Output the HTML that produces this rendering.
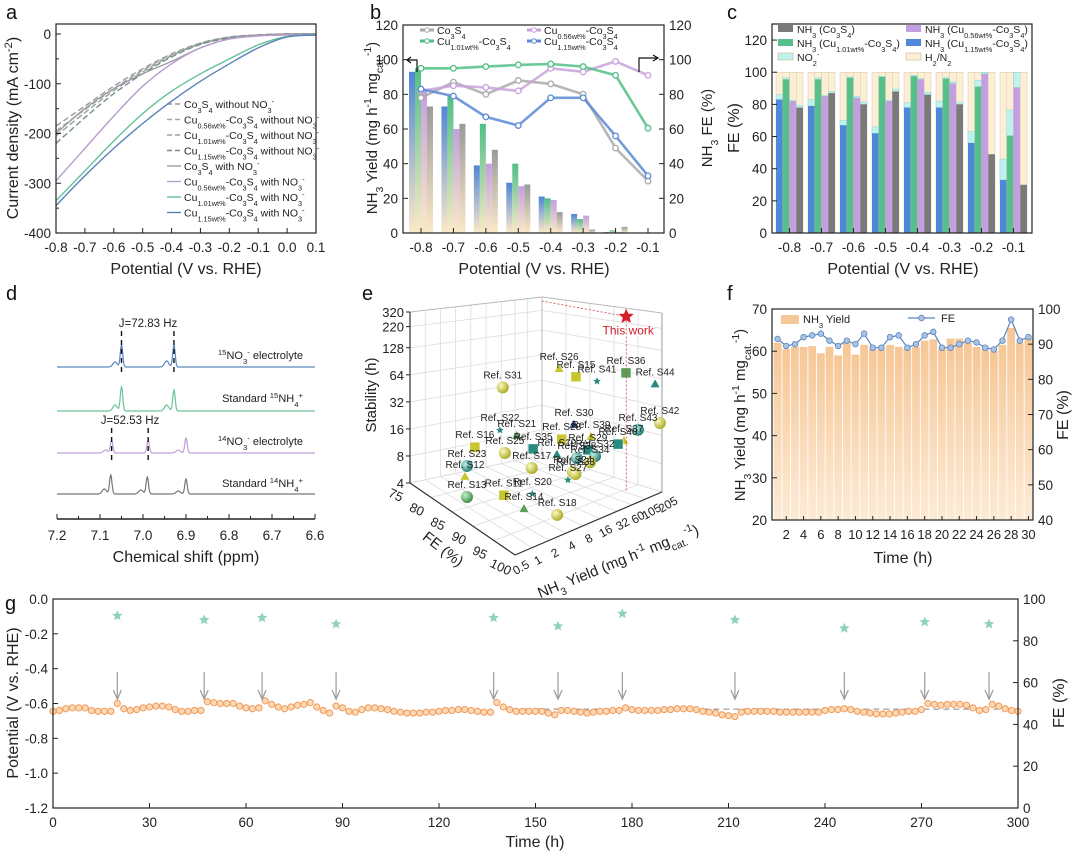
<!DOCTYPE html>
<html><head><meta charset="utf-8"><title>Catalyst figure recreation</title>
<style>
html,body{margin:0;padding:0;background:#fff;}
svg{display:block;font-family:"Liberation Sans",Arial,sans-serif;}
</style></head>
<body>
<svg id="fig" width="1080" height="852" viewBox="0 0 1080 852" xmlns="http://www.w3.org/2000/svg">
<defs>
<linearGradient id="gBlue" x1="0" y1="0" x2="0" y2="1"><stop offset="0" stop-color="#4f86d6"/><stop offset="1" stop-color="#fbe9c8"/></linearGradient>
<linearGradient id="gGreen" x1="0" y1="0" x2="0" y2="1"><stop offset="0" stop-color="#4fbf86"/><stop offset="1" stop-color="#fbe9c8"/></linearGradient>
<linearGradient id="gPurple" x1="0" y1="0" x2="0" y2="1"><stop offset="0" stop-color="#c49ee0"/><stop offset="1" stop-color="#fbe9c8"/></linearGradient>
<linearGradient id="gGray" x1="0" y1="0" x2="0" y2="1"><stop offset="0" stop-color="#9a9a9a"/><stop offset="1" stop-color="#fbe9c8"/></linearGradient>
<linearGradient id="gOrange" x1="0" y1="0" x2="0" y2="1"><stop offset="0" stop-color="#f6c796"/><stop offset="1" stop-color="#fdebd6"/></linearGradient>
<radialGradient id="sphY" cx="0.35" cy="0.35" r="0.7"><stop offset="0" stop-color="#fbfbc0"/><stop offset="1" stop-color="#a9a820"/></radialGradient>
<radialGradient id="sphG" cx="0.35" cy="0.35" r="0.7"><stop offset="0" stop-color="#c8f0c8"/><stop offset="1" stop-color="#3a8a40"/></radialGradient>
<radialGradient id="sphT" cx="0.35" cy="0.35" r="0.7"><stop offset="0" stop-color="#bff0e8"/><stop offset="1" stop-color="#1f7a70"/></radialGradient>
<radialGradient id="sphN" cx="0.35" cy="0.35" r="0.7"><stop offset="0" stop-color="#9ab0e0"/><stop offset="1" stop-color="#203a70"/></radialGradient>
</defs>
<rect x="0" y="0" width="1080" height="852" fill="#fff"/>
<g font-size="20" fill="#111">
<text x="6" y="19">a</text>
<text x="370" y="19">b</text>
<text x="727" y="19">c</text>
<text x="6" y="300">d</text>
<text x="362" y="300">e</text>
<text x="727" y="300">f</text>
<text x="5" y="610">g</text>
</g>
</svg>
<script>
const NS="http://www.w3.org/2000/svg";
const fig=document.getElementById('fig');

/* ---------------- DATA: panel a (LSV) ---------------- */
const aPot=[-0.8,-0.7,-0.6,-0.5,-0.4,-0.3,-0.2,-0.1,0.0,0.1];
const aCo3S4Without=[-185,-145,-105,-70,-40,-18,-6,-2,0,0];
const aCu056Without=[-195,-152,-110,-73,-42,-19,-7,-2,0,0];
const aCu101Without=[-205,-158,-114,-76,-44,-20,-7,-2,0,0];
const aCu115Without=[-220,-168,-120,-80,-46,-21,-8,-2,0,0];
const aCo3S4With=[-200,-150,-110,-80,-55,-28,-10,-3,-1,-1];
const aCu056With=[-295,-230,-165,-105,-60,-28,-10,-4,-2,-2];
const aCu101With=[-335,-275,-215,-160,-115,-80,-50,-22,-5,-2];
const aCu115With=[-345,-285,-230,-180,-135,-95,-60,-28,-6,-2];
const aYTicks=[0,-100,-200,-300,-400];
const aXTicks=[-0.8,-0.7,-0.6,-0.5,-0.4,-0.3,-0.2,-0.1,0.0,0.1];

/* ---------------- DATA: panel b ---------------- */
const bPot=[-0.8,-0.7,-0.6,-0.5,-0.4,-0.3,-0.2,-0.1];
const bYieldCu115=[93,73,39,29,21,11,0.5,0];
const bYieldCu101=[95,79,63,40,20,8,1.5,0];
const bYieldCu056=[83,60,40,27,19,10,0.5,0];
const bYieldCo3S4=[73,63,48,28,12,2,3.5,0.3];
const bFECo3S4=[78,87,80,88,86,80,49,30];
const bFECu056=[82,85,84,82,95,93,99,91];
const bFECu101=[95,95,96,97,97.5,96,91,60.5];
const bFECu115=[83,79,67,62,78,78,56,33];
const bTicks=[0,20,40,60,80,100,120];

/* ---------------- DATA: panel c ---------------- */
const cNH3Cu115=[83,79,67,62,78,78,56,33];
const cNH3Cu101=[95.5,95.5,96.5,97,97.5,96,91,60.5];
const cNH3Cu056=[82,85,84,82,95.5,93,99,90.5];
const cNH3Co3S4=[78,87,80,88,86,80,49,30];
const cNO2Cu115=[3,4,3,4,3,4,7,13];
const cNO2Cu101=[1,1,0.5,0.5,0.5,0.5,4,16];
const cNO2Cu056=[0.5,0.5,1,0.5,0.5,1,1,9.5];
const cNO2Co3S4=[1.5,1,1.5,1.5,1.5,1,0,0];

/* ---------------- DATA: panel d (NMR peaks) ---------------- */
const dPeakPos15NO3=[7.065,7.050,6.945,6.928];
const dPeakH15NO3=[5,22,6,22];
const dPeakPos15NH4=[7.065,7.050,6.945,6.928];
const dPeakH15NH4=[6,24,6,21];
const dPeakPos14NO3=[7.087,7.073,6.988,6.918,6.900];
const dPeakH14NO3=[3,13,13,3,15];
const dPeakPos14NH4=[7.090,7.075,7.005,6.990,6.918,6.900];
const dPeakH14NH4=[5,19,4,17,3,15];
const dXTicks=[7.2,7.1,7.0,6.9,6.8,6.7,6.6];

/* ---------------- DATA: panel e (3D benchmark) ---------------- */
const eRefs=["S31","S26","S15","S36","S41","S44","S42","S43","S30","S22","S21","S28","S39","S37","S16","S35","S29","S40","S25","S19","S32","S38","S34","S23","S17","S24","S33","S27","S12","S20","S11","S13","S14","S18"];
const eFE=[87.5,85,87.5,95,90,98.8,100,97.5,82.5,92.5,90,87.5,87.5,92.5,87.5,87.5,90,92.5,92.5,90,92.5,90,92.5,85,92.5,95,95,95,85,95,92.5,87.5,97.5,98.8];
const eYield=[2.6,40,52,111,80,190,188,118,113,0.98,3.0,29,96,157,0.83,9.0,55,123,1.2,15.5,48,35,39,0.92,3.6,12.6,14,10.3,0.85,2.4,1.15,0.6,1.11,3.45];
const eStab=[75,48,44,69,42,59,24,19,7.2,47,25,10.4,8.0,9.1,22,11.1,8.0,9.0,24.8,9.9,8.5,7.3,7.7,11,12.6,9.8,9.0,8.4,8.5,8.7,8.5,6.7,8.7,6.1];
const eShape=["s","t","c","c","p","t","s","s","t","p","t","c","t","t","c","c","c","c","s","t","s","s","s","s","s","s","s","p","t","p","c","s","t","s"];
const eColor=["Y","Y","Y","G","T","T","Y","T","N","T","G","Y","Y","Y","Y","T","T","T","Y","T","T","T","Y","T","Y","Y","Y","T","Y","T","Y","G","G","Y"];
const eThisFE=[95], eThisYield=[112], eThisStab=[292];
const eStabTicks=[4,8,16,32,64,128,220,320];
const eFETicks=[75,80,85,90,95,100];
const eYieldTicks=[0.5,1,2,4,8,16,32,60,105,205];

/* ---------------- DATA: panel f ---------------- */
const fHours=[1,2,3,4,5,6,7,8,9,10,11,12,13,14,15,16,17,18,19,20,21,22,23,24,25,26,27,28,29,30];
const fYield=[62,60.5,61,61,61.2,59.5,61,59,62,59.2,61.5,60.5,60.5,61.5,61,60.5,61,62.5,62.8,60.5,63,63,62,61,60.5,60,61.5,65.5,62,63];
const fFE=[91.5,89.5,90,92,92.5,93,91,89.5,91,90,93,89,89,92,92.5,89,90,92.5,93.5,89,89,90,91,90.5,89,88.5,91,97,91,92];
const fLTicks=[20,30,40,50,60,70];
const fRTicks=[40,50,60,70,80,90,100];
const fXTicks=[2,4,6,8,10,12,14,16,18,20,22,24,26,28,30];

/* ---------------- DATA: panel g ---------------- */
const gPotential=[-0.645,-0.64,-0.63,-0.625,-0.625,-0.625,-0.64,-0.645,-0.645,-0.645,-0.60,-0.63,-0.64,-0.635,-0.625,-0.62,-0.615,-0.615,-0.62,-0.635,-0.645,-0.645,-0.64,-0.64,-0.59,-0.595,-0.60,-0.60,-0.60,-0.615,-0.625,-0.63,-0.625,-0.585,-0.605,-0.62,-0.63,-0.62,-0.61,-0.605,-0.595,-0.62,-0.64,-0.655,-0.615,-0.625,-0.645,-0.65,-0.635,-0.625,-0.625,-0.63,-0.635,-0.645,-0.65,-0.655,-0.655,-0.655,-0.65,-0.65,-0.645,-0.64,-0.64,-0.635,-0.635,-0.64,-0.645,-0.65,-0.65,-0.595,-0.62,-0.635,-0.645,-0.645,-0.645,-0.645,-0.645,-0.655,-0.665,-0.64,-0.64,-0.645,-0.65,-0.655,-0.65,-0.645,-0.645,-0.64,-0.64,-0.625,-0.635,-0.64,-0.64,-0.64,-0.64,-0.635,-0.635,-0.63,-0.63,-0.63,-0.635,-0.645,-0.65,-0.655,-0.665,-0.67,-0.675,-0.65,-0.645,-0.645,-0.645,-0.645,-0.645,-0.65,-0.65,-0.65,-0.65,-0.65,-0.65,-0.65,-0.64,-0.635,-0.635,-0.63,-0.635,-0.645,-0.65,-0.655,-0.66,-0.66,-0.66,-0.655,-0.65,-0.645,-0.645,-0.635,-0.60,-0.605,-0.61,-0.605,-0.605,-0.605,-0.61,-0.625,-0.64,-0.635,-0.605,-0.615,-0.63,-0.64,-0.645];
const gStep=2;
const gRefreshTimes=[20,47,65,88,137,157,177,212,246,271,291];
const gFE=[92,90,91,88,91,87,93,90,86,89,88];
const gBaseline=[-0.632];
const gLTicks=[0,-0.2,-0.4,-0.6,-0.8,-1.0,-1.2];
const gRTicks=[0,20,40,60,80,100];
const gXTicks=[0,30,60,90,120,150,180,210,240,270,300];

/* ---------------- helpers ---------------- */
function mk(parent,tag,attrs,name){
  const el=document.createElementNS(NS,tag);
  for(const k in attrs) el.setAttribute(k,attrs[k]);
  
  
  parent.appendChild(el);
  return el;
}
function rich(s){
  return s.replace(/_\{([^}]*)\}/g,'<tspan baseline-shift="sub" font-size="70%">$1</tspan>')
          .replace(/\^\{([^}]*)\}/g,'<tspan baseline-shift="super" font-size="70%">$1</tspan>');
}
function txt(parent,x,y,s,name,opt){
  opt=opt||{};
  const a={x:x,y:y,'font-size':opt.size||13,fill:opt.fill||'#222','text-anchor':opt.anchor||'start'};
  if(opt.rot!==undefined) a.transform='rotate('+opt.rot+' '+x+' '+y+')';
  const t=mk(parent,'text',a,name);
  t.innerHTML=rich(s);
  return t;
}
function line(parent,x1,y1,x2,y2,name,st){
  st=st||{};
  return mk(parent,'line',{x1:x1,y1:y1,x2:x2,y2:y2,stroke:st.stroke||'#222','stroke-width':st.w||1,'stroke-dasharray':st.dash||'none',opacity:st.op||1},name);
}
function smooth(pts){
  let d='M'+pts[0][0].toFixed(1)+','+pts[0][1].toFixed(1);
  for(let i=0;i<pts.length-1;i++){
    const p0=pts[Math.max(0,i-1)],p1=pts[i],p2=pts[i+1],p3=pts[Math.min(pts.length-1,i+2)];
    const c1=[p1[0]+(p2[0]-p0[0])/6,p1[1]+(p2[1]-p0[1])/6];
    const c2=[p2[0]-(p3[0]-p1[0])/6,p2[1]-(p3[1]-p1[1])/6];
    d+=' C'+c1[0].toFixed(1)+','+c1[1].toFixed(1)+' '+c2[0].toFixed(1)+','+c2[1].toFixed(1)+' '+p2[0].toFixed(1)+','+p2[1].toFixed(1);
  }
  return d;
}
function fmt1(v){return (Math.abs(v)<1e-9?0:v).toFixed(1);}
function starPts(cx,cy,r){
  let p=[];
  for(let i=0;i<10;i++){const a=-Math.PI/2+i*Math.PI/5;const rr=i%2?r*0.45:r;p.push((cx+rr*Math.cos(a)).toFixed(1)+','+(cy+rr*Math.sin(a)).toFixed(1));}
  return p.join(' ');
}

/* ================= PANEL A ================= */
(function(){
  const g=mk(fig,'g',{},'panel-a-lsv');
  const X0=56,X1=316,Y0=24,Y1=233;
  const xa=v=>X0+(v+0.8)/0.9*(X1-X0);
  const ya=j=>34+(-j)/400*199;
  const series=[
    [aCo3S4Without,'#9a9a9a',true,'Co_{3}S_{4} without NO_{3}^{-}'],
    [aCu056Without,'#a0a8a0',true,'Cu_{0.56wt%}-Co_{3}S_{4} without NO_{3}^{-}'],
    [aCu101Without,'#90a898',true,'Cu_{1.01wt%}-Co_{3}S_{4} without NO_{3}^{-}'],
    [aCu115Without,'#7a8a90',true,'Cu_{1.15wt%}-Co_{3}S_{4} without NO_{3}^{-}'],
    [aCo3S4With,'#a09aa8',false,'Co_{3}S_{4} with NO_{3}^{-}'],
    [aCu056With,'#b89ccc',false,'Cu_{0.56wt%}-Co_{3}S_{4} with NO_{3}^{-}'],
    [aCu101With,'#62c09a',false,'Cu_{1.01wt%}-Co_{3}S_{4} with NO_{3}^{-}'],
    [aCu115With,'#5a82b8',false,'Cu_{1.15wt%}-Co_{3}S_{4} with NO_{3}^{-}']
  ];
  series.forEach((s,i)=>{
    const pts=aPot.map((v,k)=>[xa(v),ya(s[0][k])]);
    mk(g,'path',{d:smooth(pts),fill:'none',stroke:s[1],'stroke-width':1.4,'stroke-dasharray':s[2]?'6,3':'none'},'lsv-curve-'+(i+1));
    const ly=108+i*15.5;
    line(g,167,ly-4,181,ly-4,'legend-line-'+(i+1),{stroke:s[1],w:1.4,dash:s[2]?'5,3':'none'});
    txt(g,184,ly,s[3],'legend-entry-'+(i+1),{size:10.5});
  });
  mk(g,'rect',{x:X0,y:Y0,width:X1-X0,height:Y1-Y0,fill:'none',stroke:'#222','stroke-width':1.2},'plot-frame');
  aYTicks.forEach(t=>{line(g,X0,ya(t),X0+5,ya(t),'y-tick');txt(g,X0-5,ya(t)+5,String(t),'y-tick-label',{anchor:'end',size:13.5});});
  [-50,-150,-250,-350].forEach(t=>line(g,X0,ya(t),X0+3,ya(t),'y-minor-tick'));
  aXTicks.forEach(t=>{line(g,xa(t),Y1,xa(t),Y1-5,'x-tick');txt(g,xa(t),Y1+19,fmt1(t),'x-tick-label',{anchor:'middle',size:13.5});});
  txt(g,186,274,'Potential (V vs. RHE)','x-axis-title',{anchor:'middle',size:16});
  txt(g,18,128,'Current density (mA cm^{-2})','y-axis-title',{anchor:'middle',size:16,rot:-90});
})();

/* ================= PANEL B ================= */
(function(){
  const g=mk(fig,'g',{},'panel-b-yield-fe');
  const X0=403,X1=664,Y0=25,Y1=233;
  const xb=v=>421+(v+0.8)/0.7*227;
  const yb=v=>Y1-v/120*208;
  const bars=[[bYieldCu115,'url(#gBlue)',-12,'cu115'],[bYieldCu101,'url(#gGreen)',-6,'cu101'],[bYieldCu056,'url(#gPurple)',0,'cu056'],[bYieldCo3S4,'url(#gGray)',6,'co3s4']];
  bars.forEach(b=>{
    bPot.forEach((v,i)=>{
      const y=yb(b[0][i]);
      mk(g,'rect',{x:xb(v)+b[2],y:y,width:6,height:Math.max(0,Y1-y),fill:b[1]},'yield-bar-'+b[3]);
    });
  });
  const fes=[[bFECo3S4,'#aaaaaa','co3s4'],[bFECu056,'#c9a2de','cu056'],[bFECu101,'#52bf86','cu101'],[bFECu115,'#5a8ad6','cu115']];
  fes.forEach(f=>{
    const pts=bPot.map((v,i)=>xb(v).toFixed(1)+','+yb(f[0][i]).toFixed(1)).join(' ');
    mk(g,'polyline',{points:pts,fill:'none',stroke:f[1],'stroke-width':2.6,opacity:0.85},'fe-line-'+f[2]);
    bPot.forEach((v,i)=>mk(g,'circle',{cx:xb(v),cy:yb(f[0][i]),r:2.8,fill:'#fff',stroke:f[1],'stroke-width':1.3},'fe-point-'+f[2]));
  });
  mk(g,'rect',{x:X0,y:Y0,width:X1-X0,height:Y1-Y0,fill:'none',stroke:'#222','stroke-width':1.2},'plot-frame');
  bTicks.forEach(t=>{
    line(g,X0,yb(t),X0+5,yb(t),'left-tick');line(g,X1,yb(t),X1-5,yb(t),'right-tick');
    txt(g,X0-5,yb(t)+5,String(t),'left-tick-label',{anchor:'end',size:13.5});
    txt(g,X1+5,yb(t)+5,String(t),'right-tick-label',{size:13.5});
  });
  bPot.forEach(v=>{line(g,xb(v),Y1,xb(v),Y1-5,'x-tick');txt(g,xb(v),Y1+19,fmt1(v),'x-tick-label',{anchor:'middle',size:13.5});});
  txt(g,534,274,'Potential (V vs. RHE)','x-axis-title',{anchor:'middle',size:16});
  txt(g,377,128,'NH_{3} Yield (mg h^{-1} mg_{cat.}^{-1})','left-axis-title',{anchor:'middle',size:15,rot:-90});
  txt(g,712,128,'NH_{3} FE (%)','right-axis-title',{anchor:'middle',size:15,rot:-90});
  const leg=[['#aaaaaa','Co_{3}S_{4}',420,34],['#52bf86','Cu_{1.01wt%}-Co_{3}S_{4}',420,45],['#c9a2de','Cu_{0.56wt%}-Co_{3}S_{4}',527,34],['#5a8ad6','Cu_{1.15wt%}-Co_{3}S_{4}',527,45]];
  leg.forEach((l,i)=>{
    line(g,l[2],l[3]-4,l[2]+14,l[3]-4,'legend-line-'+i,{stroke:l[0],w:3});
    mk(g,'circle',{cx:l[2]+7,cy:l[3]-4,r:2.3,fill:'#fff',stroke:l[0]},'legend-marker-'+i);
    txt(g,l[2]+17,l[3],l[1],'legend-entry-'+i,{size:10.5});
  });
  mk(g,'path',{d:'M417,72 L417,60 L408,60 M411,57 L407,60 L411,63',fill:'none',stroke:'#111','stroke-width':1.2},'left-axis-arrow');
  mk(g,'path',{d:'M639,72 L639,58 L657,58 M653,55 L658,58 L653,61',fill:'none',stroke:'#111','stroke-width':1.2},'right-axis-arrow');
})();

/* ================= PANEL C ================= */
(function(){
  const g=mk(fig,'g',{},'panel-c-fe-distribution');
  const X0=772,X1=1032,Y0=24,Y1=233;
  const xc=v=>789.5+(v+0.8)/0.7*224;
  const yc=v=>Y1-v/130*209;
  const sets=[[cNH3Cu115,cNO2Cu115,'#4f88d8',-13.5,'cu115'],[cNH3Cu101,cNO2Cu101,'#56c08a',-6.75,'cu101'],[cNH3Cu056,cNO2Cu056,'#c39ee0',0,'cu056'],[cNH3Co3S4,cNO2Co3S4,'#7a7a7a',6.75,'co3s4']];
  sets.forEach(s=>{
    bPot.forEach((v,i)=>{
      const x=xc(v)+s[3],w=6.75;
      mk(g,'rect',{x:x,y:yc(100),width:w,height:yc(0)-yc(100),fill:'#fcefd6',stroke:'#d8c8a4','stroke-width':0.5},'h2-n2-bar-'+s[4]);
      const top=s[0][i]+s[1][i];
      mk(g,'rect',{x:x,y:yc(top),width:w,height:yc(s[0][i])-yc(top),fill:'#bff2ee',stroke:'#8ad8d0','stroke-width':0.5},'no2-bar-'+s[4]);
      mk(g,'rect',{x:x,y:yc(s[0][i]),width:w,height:yc(0)-yc(s[0][i]),fill:s[2]},'nh3-bar-'+s[4]);
    });
  });
  mk(g,'rect',{x:X0,y:Y0,width:X1-X0,height:Y1-Y0,fill:'none',stroke:'#222','stroke-width':1.2},'plot-frame');
  bTicks.forEach(t=>{line(g,X0,yc(t),X0+5,yc(t),'y-tick');txt(g,X0-5,yc(t)+5,String(t),'y-tick-label',{anchor:'end',size:13.5});});
  bPot.forEach(v=>{line(g,xc(v),Y1,xc(v),Y1-5,'x-tick');txt(g,xc(v),Y1+19,fmt1(v),'x-tick-label',{anchor:'middle',size:13.5});});
  txt(g,903,274,'Potential (V vs. RHE)','x-axis-title',{anchor:'middle',size:16});
  txt(g,739,128,'FE (%)','y-axis-title',{anchor:'middle',size:16,rot:-90});
  const leg=[['#7a7a7a','NH_{3} (Co_{3}S_{4})',778,33],['#56c08a','NH_{3} (Cu_{1.01wt%}-Co_{3}S_{4})',778,47],['#bff2ee','NO_{2}^{-}',778,61],['#c39ee0','NH_{3} (Cu_{0.56wt%}-Co_{3}S_{4})',906,33],['#4f88d8','NH_{3} (Cu_{1.15wt%}-Co_{3}S_{4})',906,47],['#fcefd6','H_{2}/N_{2}',906,61]];
  leg.forEach((l,i)=>{
    mk(g,'rect',{x:l[2],y:l[3]-8,width:15,height:7,fill:l[0],stroke:(i===2||i===5)?'#c8b890':'none','stroke-width':0.6},'legend-swatch-'+i);
    txt(g,l[2]+19,l[3],l[1],'legend-entry-'+i,{size:10.5});
  });
})();

/* ================= PANEL D ================= */
(function(){
  const g=mk(fig,'g',{},'panel-d-nmr');
  const xd=p=>57+(7.2-p)/0.6*258;
  const spectra=[[dPeakPos15NO3,dPeakH15NO3,367,'#5a86c0','15no3-electrolyte'],[dPeakPos15NH4,dPeakH15NH4,411,'#6cc49a','standard-15nh4'],[dPeakPos14NO3,dPeakH14NO3,453,'#c0a0d8','14no3-electrolyte'],[dPeakPos14NH4,dPeakH14NH4,494,'#777777','standard-14nh4']];
  spectra.forEach(s=>{
    let pts=[];
    for(let k=0;k<=600;k++){
      const p=7.2-k*0.001;
      let y=0;
      s[0].forEach((c,j)=>{const sg=(s[1][j]>10?0.0028:0.005);y+=s[1][j]*Math.exp(-Math.pow((p-c)/sg,2)/2);});
      pts.push(xd(p).toFixed(1)+','+(s[2]-y).toFixed(1));
    }
    mk(g,'polyline',{points:pts.join(' '),fill:'none',stroke:s[3],'stroke-width':1.2},'spectrum-'+s[4]);
  });
  [[7.050,331,375],[6.928,331,375],[7.073,428,462],[6.988,428,462]].forEach((d,i)=>line(g,xd(d[0]),d[1],xd(d[0]),d[2],'j-coupling-marker-'+i,{stroke:'#111',w:1.4,dash:'5,4'}));
  txt(g,148,327,'J=72.83 Hz','j-label-15n',{anchor:'middle',size:11.5});
  txt(g,130,424,'J=52.53 Hz','j-label-14n',{anchor:'middle',size:11.5});
  txt(g,303,359,'^{15}NO_{3}^{-} electrolyte','label-15no3-electrolyte',{anchor:'end',size:11});
  txt(g,303,402,'Standard ^{15}NH_{4}^{+}','label-standard-15nh4',{anchor:'end',size:11});
  txt(g,303,445,'^{14}NO_{3}^{-} electrolyte','label-14no3-electrolyte',{anchor:'end',size:11});
  txt(g,303,487,'Standard ^{14}NH_{4}^{+}','label-standard-14nh4',{anchor:'end',size:11});
  line(g,57,519,315,519,'x-axis',{w:1.4});
  dXTicks.forEach(t=>{line(g,xd(t),519,xd(t),514,'x-tick');txt(g,xd(t),540,t.toFixed(1),'x-tick-label',{anchor:'middle',size:13.5});});
  [7.15,7.05,6.95,6.85,6.75,6.65].forEach(t=>line(g,xd(t),519,xd(t),516,'x-minor-tick'));
  txt(g,186,562,'Chemical shift (ppm)','x-axis-title',{anchor:'middle',size:16});
})();

/* ================= PANEL E ================= */
(function(){
  const g=mk(fig,'g',{},'panel-e-3d-benchmark');
  const F=[515,555],L=[410,483],R=[662,492],B=[542,455];
  const HF=190,HL=171,HR=179,HB=158;
  function proj(u,v,w){
    const a=(1-u)*(1-v),b=u*(1-v),c=(1-u)*v,d=u*v;
    const x=a*F[0]+b*L[0]+c*R[0]+d*B[0];
    const y=a*F[1]+b*L[1]+c*R[1]+d*B[1];
    const h=a*HF+b*HL+c*HR+d*HB;
    return [x,y-w*h];
  }
  function projM(u,v,w){return [515-105*u+147*v,555-72*u-63*v-171*w];}
  const uf=fe=>(100-fe)/25, vf=y=>Math.log(y/0.5)/Math.log(410), wf=s=>Math.log(s/4)/Math.log(80);
  const gl=(p,q,n,st)=>line(g,p[0],p[1],q[0],q[1],n,st||{stroke:'#dcdcdc',w:0.8});
  eStabTicks.forEach(s=>{const w=wf(s);gl(proj(1,0,w),proj(1,1,w),'grid-left-wall');gl(proj(0,1,w),proj(1,1,w),'grid-right-wall');});
  eYieldTicks.forEach(y=>{const v=vf(y);gl(proj(1,v,0),proj(1,v,1),'grid-left-wall-v');gl(proj(0,v,0),proj(1,v,0),'grid-floor-yield');});
  eFETicks.forEach(f=>{const u=uf(f);gl(proj(u,1,0),proj(u,1,1),'grid-right-wall-v');gl(proj(u,0,0),proj(u,1,0),'grid-floor-fe');});
  gl(proj(1,0,1),proj(1,1,1),'frame-top-left',{stroke:'#bbb',w:1});
  gl(proj(1,1,1),proj(0,1,1),'frame-top-right',{stroke:'#bbb',w:1});
  gl(proj(1,1,0),proj(1,1,1),'frame-back-vertical',{stroke:'#bbb',w:1});
  gl(proj(0,1,0),proj(0,1,1),'frame-right-vertical',{stroke:'#999',w:1});
  gl(proj(1,0,0),proj(1,0,1),'stability-axis',{stroke:'#333',w:1.2});
  gl(proj(1,0,0),proj(0,0,0),'fe-axis',{stroke:'#333',w:1.2});
  gl(proj(0,0,0),proj(0,1,0),'yield-axis',{stroke:'#333',w:1.2});
  eStabTicks.forEach(s=>{const p=proj(1,0,wf(s));line(g,p[0]-4,p[1],p[0],p[1],'stability-tick');txt(g,p[0]-6,p[1]+5,String(s),'stability-tick-label',{anchor:'end',size:13});});
  eFETicks.forEach(f=>{const p=proj(uf(f),0,0);txt(g,p[0]-16,p[1]+16,String(f),'fe-tick-label',{anchor:'middle',size:13,rot:25});});
  eYieldTicks.forEach(y=>{const p=proj(0,vf(y),0);txt(g,p[0]+8,p[1]+16,String(y),'yield-tick-label',{anchor:'middle',size:12,rot:-30});});
  txt(g,376,395,'Stability (h)','stability-axis-title',{anchor:'middle',size:15,rot:-90});
  txt(g,440,553,'FE (%)','fe-axis-title',{anchor:'middle',size:15,rot:38});
  txt(g,620,566,'NH_{3} Yield (mg h^{-1} mg_{cat.}^{-1})','yield-axis-title',{anchor:'middle',size:15,rot:-22});
  const fills={Y:'url(#sphY)',G:'url(#sphG)',T:'url(#sphT)',N:'url(#sphN)'};
  const solid={Y:'#c8c630',G:'#5aa05a',T:'#2a8a80',N:'#2a4a80'};
  eRefs.forEach((r,i)=>{
    const p=projM(uf(eFE[i]),vf(eYield[i]),wf(eStab[i]));
    const sh=eShape[i],c=eColor[i];
    if(sh==='s') mk(g,'circle',{cx:p[0],cy:p[1],r:6,fill:fills[c]},'marker-sphere-'+r);
    else if(sh==='c') mk(g,'rect',{x:p[0]-5,y:p[1]-5,width:10,height:10,fill:solid[c],stroke:'#fff','stroke-width':0.5},'marker-cube-'+r);
    else if(sh==='t') mk(g,'polygon',{points:p[0]+','+(p[1]-5)+' '+(p[0]-4.5)+','+(p[1]+3)+' '+(p[0]+4.5)+','+(p[1]+3),fill:solid[c]},'marker-cone-'+r);
    else mk(g,'polygon',{points:starPts(p[0],p[1],4),fill:solid[c]},'marker-star-'+r);
    txt(g,p[0],p[1]-9,'Ref. '+r,'ref-label-'+r,{anchor:'middle',size:10});
  });
  const tp=projM(uf(eThisFE[0]),vf(eThisYield[0]),wf(eThisStab[0]));
  line(g,tp[0],tp[1],tp[0],492,'this-work-drop-line',{stroke:'#d04040',w:0.8,dash:'2,2'});
  line(g,tp[0],tp[1],proj(1,1,1)[0],proj(1,1,1)[1]+4,'this-work-guide-line',{stroke:'#d04040',w:0.8,dash:'2,2'});
  mk(g,'polygon',{points:starPts(tp[0],tp[1],8),fill:'#d81e2a'},'this-work-star');
  txt(g,tp[0]+2,tp[1]+18,'This work','this-work-label',{anchor:'middle',size:12,fill:'#d02030'});
})();

/* ================= PANEL F ================= */
(function(){
  const g=mk(fig,'g',{},'panel-f-stability-cycles');
  const X0=772,X1=1033,Y0=309,Y1=520;
  const xf=t=>777.6+(t-1)*8.65;
  const yl=v=>Y1-(v-20)/50*(Y1-Y0);
  const yr=v=>Y1-(v-40)/60*(Y1-Y0);
  fHours.forEach((t,i)=>mk(g,'rect',{x:xf(t)-3.9,y:yl(fYield[i]),width:7.8,height:Y1-yl(fYield[i]),fill:'url(#gOrange)'},'yield-bar-h'+t));
  mk(g,'polyline',{points:fHours.map((t,i)=>xf(t).toFixed(1)+','+yr(fFE[i]).toFixed(1)).join(' '),fill:'none',stroke:'#5a84c0','stroke-width':1.2},'fe-line');
  fHours.forEach((t,i)=>mk(g,'circle',{cx:xf(t),cy:yr(fFE[i]),r:2.8,fill:'#a9c4e2',stroke:'#5a84c0','stroke-width':0.8},'fe-point-h'+t));
  mk(g,'rect',{x:X0,y:Y0,width:X1-X0,height:Y1-Y0,fill:'none',stroke:'#222','stroke-width':1.2},'plot-frame');
  fLTicks.forEach(t=>{line(g,X0,yl(t),X0+5,yl(t),'left-tick');txt(g,X0-5,yl(t)+5,String(t),'left-tick-label',{anchor:'end',size:13.5});});
  fRTicks.forEach(t=>{line(g,X1,yr(t),X1-5,yr(t),'right-tick');txt(g,X1+5,yr(t)+5,String(t),'right-tick-label',{size:13.5});});
  fXTicks.forEach(t=>{line(g,xf(t),Y1,xf(t),Y1-4,'x-tick');txt(g,xf(t),Y1+19,String(t),'x-tick-label',{anchor:'middle',size:13});});
  txt(g,903,563,'Time (h)','x-axis-title',{anchor:'middle',size:16});
  txt(g,745,415,'NH_{3} Yield (mg h^{-1} mg_{cat.}^{-1})','left-axis-title',{anchor:'middle',size:15,rot:-90});
  txt(g,1068,415,'FE (%)','right-axis-title',{anchor:'middle',size:16,rot:-90});
  mk(g,'rect',{x:781,y:315,width:18,height:9,fill:'#f6c796'},'legend-swatch-yield');
  txt(g,803,323,'NH_{3} Yield','legend-entry-yield',{size:11});
  line(g,908,318,935,318,'legend-line-fe',{stroke:'#5a84c0',w:1.2});
  mk(g,'circle',{cx:921.5,cy:318,r:2.8,fill:'#a9c4e2',stroke:'#5a84c0','stroke-width':0.8},'legend-marker-fe');
  txt(g,941,322,'FE','legend-entry-fe',{size:11});
})();

/* ================= PANEL G ================= */
(function(){
  const g=mk(fig,'g',{},'panel-g-long-term');
  const X0=53,X1=1018,Y0=599,Y1=808;
  const xg=t=>X0+t/300*(X1-X0);
  const yg=v=>Y0+(-v)/1.2*(Y1-Y0);
  const yfe=f=>Y1-f/100*(Y1-Y0);
  line(g,xg(140),yg(gBaseline[0]),X1,yg(gBaseline[0]),'reference-dashed-line',{stroke:'#888',w:1,dash:'6,4'});
  gPotential.forEach((v,i)=>mk(g,'circle',{cx:xg(i*gStep),cy:yg(v),r:3.1,fill:'#fcd8b4',stroke:'#f09a5a','stroke-width':1},'potential-point'));
  gRefreshTimes.forEach((t,i)=>{
    const x=xg(t),y1=yg(-0.42),y2=yg(-0.575);
    line(g,x,y1,x,y2,'refresh-arrow-'+i,{stroke:'#999',w:1.2});
    mk(g,'path',{d:'M'+(x-4)+','+(y2-9)+' L'+x+','+y2+' L'+(x+4)+','+(y2-9),fill:'none',stroke:'#999','stroke-width':1.2},'refresh-arrowhead-'+i);
    mk(g,'polygon',{points:starPts(x,yfe(gFE[i]),5.5),fill:'#8fd0c0'},'fe-star-'+i);
  });
  mk(g,'rect',{x:X0,y:Y0,width:X1-X0,height:Y1-Y0,fill:'none',stroke:'#222','stroke-width':1.2},'plot-frame');
  gLTicks.forEach(t=>{line(g,X0,yg(t),X0+5,yg(t),'left-tick');txt(g,X0-5,yg(t)+5,t.toFixed(1),'left-tick-label',{anchor:'end',size:13.5});});
  gRTicks.forEach(t=>{line(g,X1,yfe(t),X1-5,yfe(t),'right-tick');txt(g,X1+5,yfe(t)+5,String(t),'right-tick-label',{size:13.5});});
  gXTicks.forEach(t=>{line(g,xg(t),Y1,xg(t),Y1-5,'x-tick');txt(g,xg(t),Y1+19,String(t),'x-tick-label',{anchor:'middle',size:13.5});});
  txt(g,535,847,'Time (h)','x-axis-title',{anchor:'middle',size:16});
  txt(g,18,703,'Potential (V vs. RHE)','left-axis-title',{anchor:'middle',size:16,rot:-90});
  txt(g,1064,703,'FE (%)','right-axis-title',{anchor:'middle',size:16,rot:-90});
})();
</script>
</body></html>
